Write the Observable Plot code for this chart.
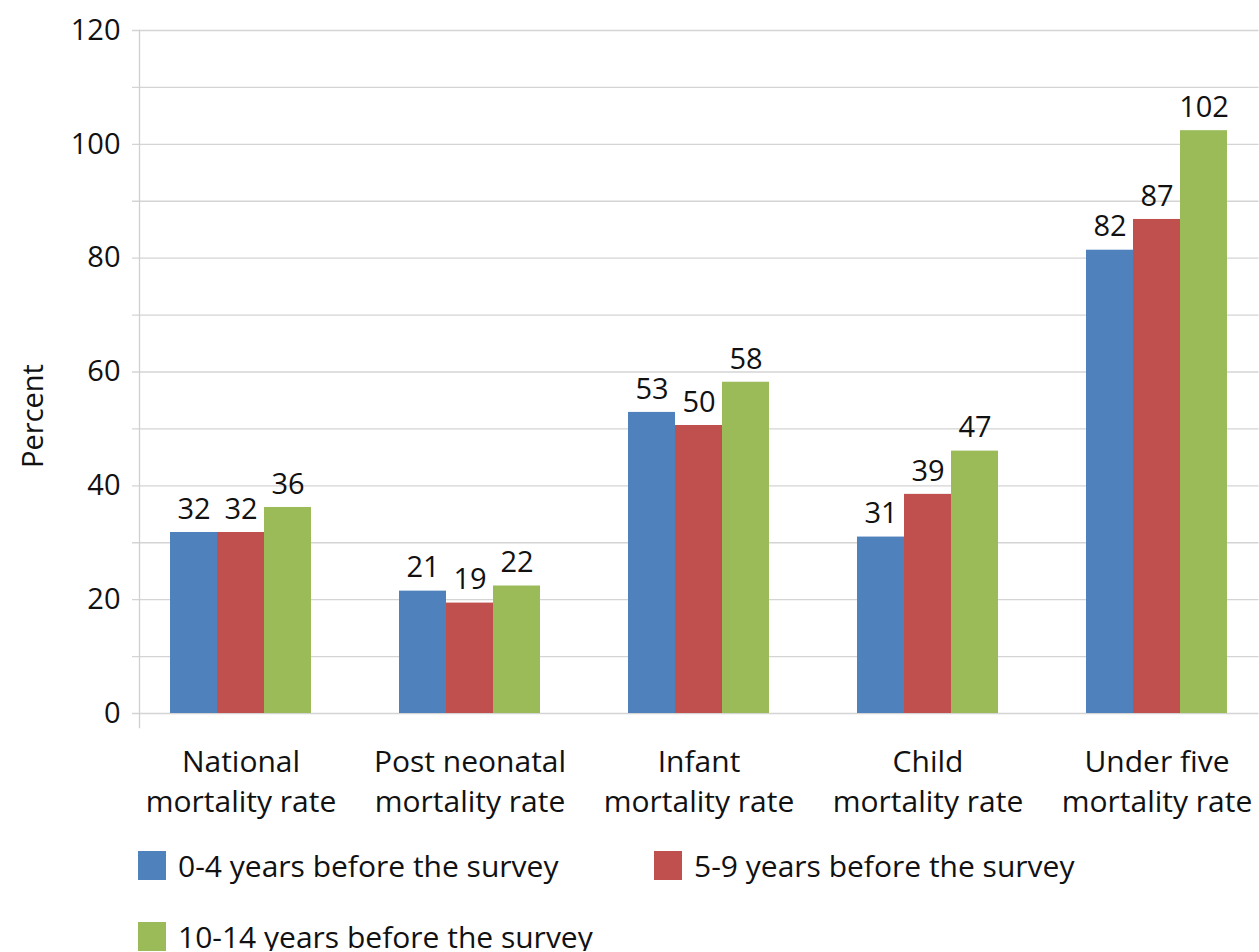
<!DOCTYPE html>
<html>
<head>
<meta charset="utf-8">
<script src="https://cdn.jsdelivr.net/npm/d3@7"></script>
<script src="https://cdn.jsdelivr.net/npm/@observablehq/plot@0.6"></script>
<style>
  html, body { margin: 0; padding: 0; background: #fff; overflow: hidden; }
  body { font-family: "Open Sans", sans-serif; }
  #chart { position: relative; width: 1259px; height: 840px; }
  #chart svg { position: absolute; left: 0; top: 0; }
  #legend {
    display: grid;
    grid-template-columns: 516px auto;
    row-gap: 42px;
    padding-left: 138px;
    padding-top: 11px;
  }
  .item { display: flex; align-items: center; height: 29px; font-size: 30px; color: #111; white-space: nowrap; }
  .sw { width: 28px; height: 29px; margin-right: 12px; flex: none; }
</style>
</head>
<body>
<div id="chart"></div>
<div id="legend"></div>
<script>
// ---- data ----
const categories = ["National", "Post neonatal", "Infant", "Child", "Under five"];
const categoryLabels = ["National\nmortality rate", "Post neonatal\nmortality rate", "Infant\nmortality rate", "Child\nmortality rate", "Under five\nmortality rate"];
const seriesNames = ["0-4 years before the survey", "5-9 years before the survey", "10-14 years before the survey"];
const values0_4 = [31.8, 21.5, 52.9, 31.0, 81.4];
const values5_9 = [31.8, 19.4, 50.6, 38.5, 86.8];
const values10_14 = [36.2, 22.4, 58.2, 46.1, 102.4];
const labels0_4 = [32, 21, 53, 31, 82];
const labels5_9 = [32, 19, 50, 39, 87];
const labels10_14 = [36, 22, 58, 47, 102];
const yTicks = [0, 20, 40, 60, 80, 100, 120];
const yGrid = [0, 10, 20, 30, 40, 50, 60, 70, 80, 90, 100, 110, 120];
const colors = ["#4F81BD", "#C0504D", "#9BBB59"];

const seriesValues = [values0_4, values5_9, values10_14];
const seriesLabels = [labels0_4, labels5_9, labels10_14];
const data = [];
categories.forEach((c, i) => {
  seriesNames.forEach((s, j) => {
    data.push({category: c, series: s, value: seriesValues[j][i], label: String(seriesLabels[j][i])});
  });
});
const labelOf = new Map(categories.map((c, i) => [c, categoryLabels[i]]));

const common = {
  width: 1259,
  height: 840,
  marginLeft: 139,
  marginRight: 0.5,
  marginTop: 30,
  marginBottom: 127,
  style: {fontFamily: "'Open Sans', sans-serif", fontSize: "29px", color: "#111", background: "transparent", overflow: "visible"},
  y: {domain: [0, 120], axis: null}
};
const bandPad = {paddingInner: 0.376, paddingOuter: 0.1297};

// background layer: grid, axis line, tick labels, category labels
const base = Plot.plot({
  ...common,
  x: {type: "band", domain: categories, ...bandPad, axis: null},
  marks: [
    Plot.ruleY(yGrid, {y: d => d, stroke: "#d4d4d4", strokeWidth: 1.3, insetLeft: -7}),
    Plot.frame({anchor: "left", stroke: "#d0d0d0", strokeWidth: 1.3, insetBottom: -14}),
    Plot.text(yTicks, {y: d => d, text: d => String(d), frameAnchor: "left", textAnchor: "end", dx: -19, fill: "#111", fontSize: 29}),
    Plot.text(["Percent"], {text: d => d, frameAnchor: "left", textAnchor: "middle", rotate: -90, dx: -106, dy: 44, fill: "#111", fontSize: 29}),
    Plot.text(categories, {x: d => d, text: d => labelOf.get(d), frameAnchor: "bottom", lineAnchor: "top", dy: 30, lineHeight: 1.34, fill: "#111", fontSize: 30})
  ]
});

// bar layer: grouped bars via facets
const bars = Plot.plot({
  ...common,
  fx: {domain: categories, ...bandPad, axis: null, label: null},
  x: {domain: seriesNames, padding: 0, axis: null},
  color: {domain: seriesNames, range: colors},
  marks: [
    Plot.barY(data, {fx: "category", x: "series", y: "value", fill: "series"}),
    Plot.text(data, {fx: "category", x: "series", y: "value", text: "label", dy: -23, fill: "#111", fontSize: 29})
  ]
});
const chartDiv = document.getElementById("chart");
chartDiv.appendChild(base);
chartDiv.appendChild(bars);

const legend = document.getElementById("legend");
seriesNames.forEach((s, i) => {
  const item = document.createElement("div");
  item.className = "item";
  const sw = document.createElement("span");
  sw.className = "sw";
  sw.style.background = colors[i];
  const t = document.createElement("span");
  t.textContent = s;
  item.appendChild(sw);
  item.appendChild(t);
  legend.appendChild(item);
});
</script>
</body>
</html>
